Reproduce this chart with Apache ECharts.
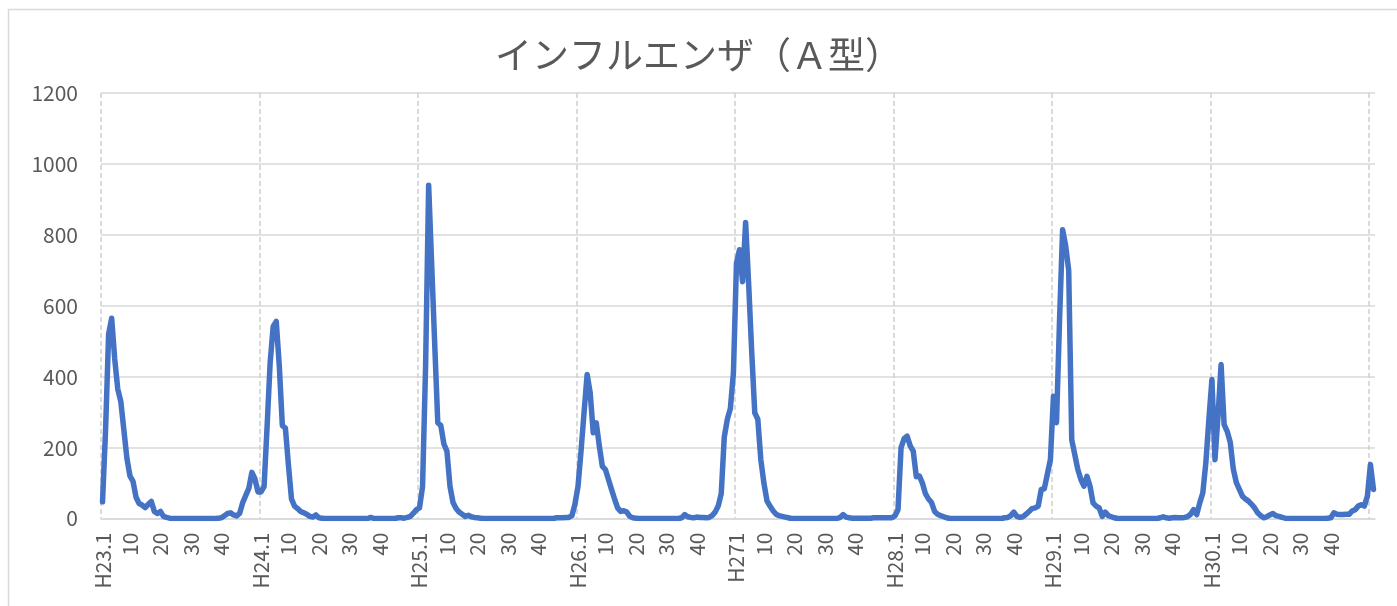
<!DOCTYPE html>
<html>
<head>
<meta charset="utf-8">
<script src="https://cdn.jsdelivr.net/npm/echarts@6/dist/echarts.min.js"></script>
<style>
html,body{margin:0;padding:0;background:#fff;}
#c{width:1397px;height:606px;}
</style>
</head>
<body>
<div id="c"></div>
<script>
// ---- data ----
const titleText = 'インフルエンザ（Ａ型）';
const yearLabels = ['H23.1','H24.1','H25.1','H26.1','H271','H28.1','H29.1','H30.1'];
const weekTicks = [10, 20, 30, 40];
const yTicks = [0, 200, 400, 600, 800, 1000, 1200];
const weeksPerYear = 52;

const y23 = [47,250,520,565,450,365,330,250,170,120,105,60,42,38,31,40,48,20,14,20,6,3,1,
  0,0,0,0,0,0,0,0,0,0,0,0,0,0,0,
  1,2,8,14,16,10,7,15,45,65,85,130,112,75];
const y24 = [75,90,260,440,542,556,430,262,255,150,55,35,28,20,16,12,6,4,10,2,1,
  0,0,0,0,0,0,0,0,0,0,0,0,0,0,0,
  3,0,0,0,0,0,0,0,0,
  2,2,1,3,6,15,25];
const y25 = [30,90,430,940,715,490,270,262,210,190,91,45,28,18,12,6,9,5,3,2,1,
  0,0,0,0,0,0,0,0,0,0,0,0,0,0,0,0,0,0,0,0,0,0,0,0,
  2,2,2,3,3,8,40];
const y26 = [90,190,300,406,355,242,270,204,147,138,110,82,55,30,20,22,18,6,2,1,
  0,0,0,0,0,0,0,0,0,0,0,0,0,0,
  2,11,5,3,2,4,3,3,2,3,8,18,35,70,230,280,310,411];
const y27 = [720,758,668,835,660,470,298,280,165,100,50,35,22,12,8,6,4,2,
  0,0,0,0,0,0,0,0,0,0,0,0,0,0,0,0,
  3,11,4,2,
  1,1,1,1,1,1,1,
  2,2,2,2,2,2,2];
const y28 = [8,25,200,225,232,205,190,118,120,100,70,55,45,20,12,8,5,2,
  0,0,0,0,0,0,0,0,0,0,0,0,0,0,0,0,0,0,
  2,3,8,18,6,3,5,12,20,28,30,35,82,84,125,166];
const y29 = [345,270,560,814,770,700,222,180,138,110,91,119,91,44,35,30,6,18,8,5,2,
  0,0,0,0,0,0,0,0,0,0,0,0,0,0,
  2,5,2,1,2,3,2,2,3,5,12,25,11,44,72,157,280];
const y30 = [392,166,290,434,265,246,215,140,101,82,63,55,49,40,30,16,8,2,5,10,14,8,6,3,1,
  0,0,0,0,0,0,0,0,0,0,0,0,0,
  1,2,16,12,11,11,12,12,21,25,35,39,35,63,152,82];

// ---- build categories & series ----
const years = [y23, y24, y25, y26, y27, y28, y29, y30];
const values = [];
const cats = [];
years.forEach((arr, yi) => {
  arr.forEach((v, wi) => {
    values.push(v);
    const wk = wi + 1;
    let lab = '';
    if (wk === 1) lab = yearLabels[yi];
    else if (weekTicks.indexOf(wk) >= 0 && wi < weeksPerYear) lab = String(wk);
    cats.push(lab);
  });
});
const nCats = cats.length;                       // 418
const yearSpan = years.length * weeksPerYear;    // 416

const chart = echarts.init(document.getElementById('c'), null, {renderer: 'canvas'});
const gridColor = '#d9d9d9';
const textColor = '#595959';
const fontFam = '"Noto Sans CJK JP", "Noto Sans", sans-serif';

const plotLeft = 101, plotRightEdge = 1375, plotTop = 93, plotBottom = 87.5;
const catW = (plotRightEdge - plotLeft) / nCats;

chart.setOption({
  backgroundColor: '#ffffff',
  animation: false,
  title: {
    text: titleText,
    left: 'center',
    top: 31,
    textStyle: {fontSize: 37, fontWeight: 'normal', color: textColor, fontFamily: fontFam}
  },
  graphic: [{
    type: 'rect',
    shape: {x: 8.5, y: 9.5, width: 1420, height: 640},
    style: {fill: 'none', stroke: '#d9d9d9', lineWidth: 1.5},
    silent: true,
    z: -10
  }],
  grid: [
    {left: plotLeft, right: 1397 - plotRightEdge, top: plotTop, bottom: plotBottom, containLabel: false},
    {left: plotLeft, right: 1397 - (plotLeft + catW * yearSpan), top: plotTop, bottom: plotBottom, containLabel: false}
  ],
  xAxis: [{
    type: 'category',
    gridIndex: 0,
    data: cats,
    boundaryGap: true,
    axisTick: {show: false},
    axisLine: {show: true, lineStyle: {color: gridColor, width: 1.5}},
    axisLabel: {
      interval: 0, rotate: 90, margin: 14,
      fontSize: 21, color: textColor, fontFamily: fontFam
    },
    splitLine: {show: false}
  }, {
    type: 'value',
    gridIndex: 1,
    min: 0,
    max: yearSpan,
    interval: weeksPerYear,
    axisLine: {show: false},
    axisTick: {show: false},
    axisLabel: {show: false},
    splitLine: {show: true, lineStyle: {color: '#d0d0d0', width: 1.5, type: [5, 3]}}
  }],
  yAxis: [{
    type: 'value',
    gridIndex: 0,
    min: yTicks[0],
    max: yTicks[yTicks.length - 1],
    interval: 200,
    axisLine: {show: false},
    axisTick: {show: false},
    axisLabel: {fontSize: 21, color: textColor, fontFamily: fontFam, margin: 23,
      formatter: function (v) { return String(v); }},
    splitLine: {lineStyle: {color: gridColor, width: 1.5}}
  }, {
    type: 'value',
    gridIndex: 1,
    min: 0, max: 1,
    show: false,
    splitLine: {show: false}
  }],
  series: [{
    type: 'line',
    xAxisIndex: 0,
    yAxisIndex: 0,
    data: values,
    showSymbol: false,
    symbol: 'none',
    lineStyle: {color: '#4472C4', width: 5.5, join: 'round', cap: 'round'},
    z: 5
  }]
});
</script>
</body>
</html>
